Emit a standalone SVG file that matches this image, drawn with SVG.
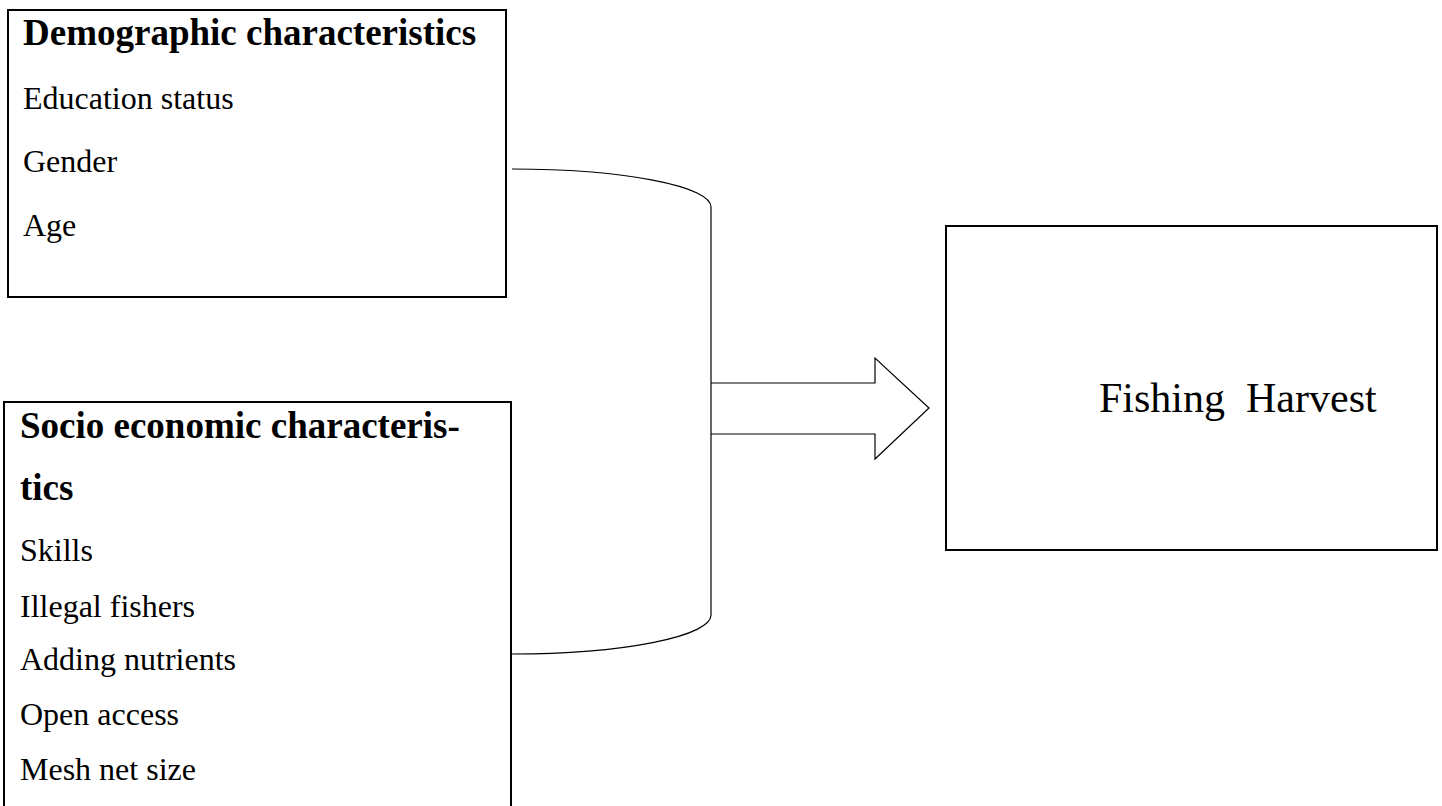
<svg xmlns="http://www.w3.org/2000/svg" width="1442" height="806" viewBox="0 0 1442 806">
<style>
.box{fill:#fff;stroke:#000;stroke-width:2}
.t{font-family:"Liberation Serif","Times New Roman",serif;font-size:32px;fill:#000}
.b{font-weight:bold;font-size:37px}
.c{fill:none;stroke:#000;stroke-width:1.2}
</style>
<rect width="1442" height="806" fill="#fff"/>
<g id="connectors">
<path class="c" d="M512,169 A199,38 0 0 1 711,207 L711,615 A199,39 0 0 1 512,654"/>
<path class="c" d="M711,383 L875,383 L875,358 L929,408 L875,459 L875,434 L711,434" fill="#fff"/>
</g>
<g id="demographic">
<rect class="box" x="8" y="10" width="498" height="287"/>
<text class="t b" x="23" y="45">Demographic characteristics</text>
<text class="t" x="23" y="109">Education status</text>
<text class="t" x="23" y="172">Gender</text>
<text class="t" x="23" y="236">Age</text>
</g>
<g id="socio">
<path class="box" d="M4,815 L4,402 L511,402 L511,815"/>
<text class="t b" x="20" y="438">Socio economic characteris-</text>
<text class="t b" x="20" y="500">tics</text>
<text class="t" x="20" y="561">Skills</text>
<text class="t" x="20" y="617">Illegal fishers</text>
<text class="t" x="20" y="670">Adding nutrients</text>
<text class="t" x="20" y="725">Open access</text>
<text class="t" x="20" y="780">Mesh net size</text>
</g>
<g id="harvest">
<rect class="box" x="946" y="226" width="491" height="324"/>
<text class="t" x="1099" y="412" style="font-size:42px;white-space:pre" xml:space="preserve">Fishing  Harvest</text>
</g>
</svg>
